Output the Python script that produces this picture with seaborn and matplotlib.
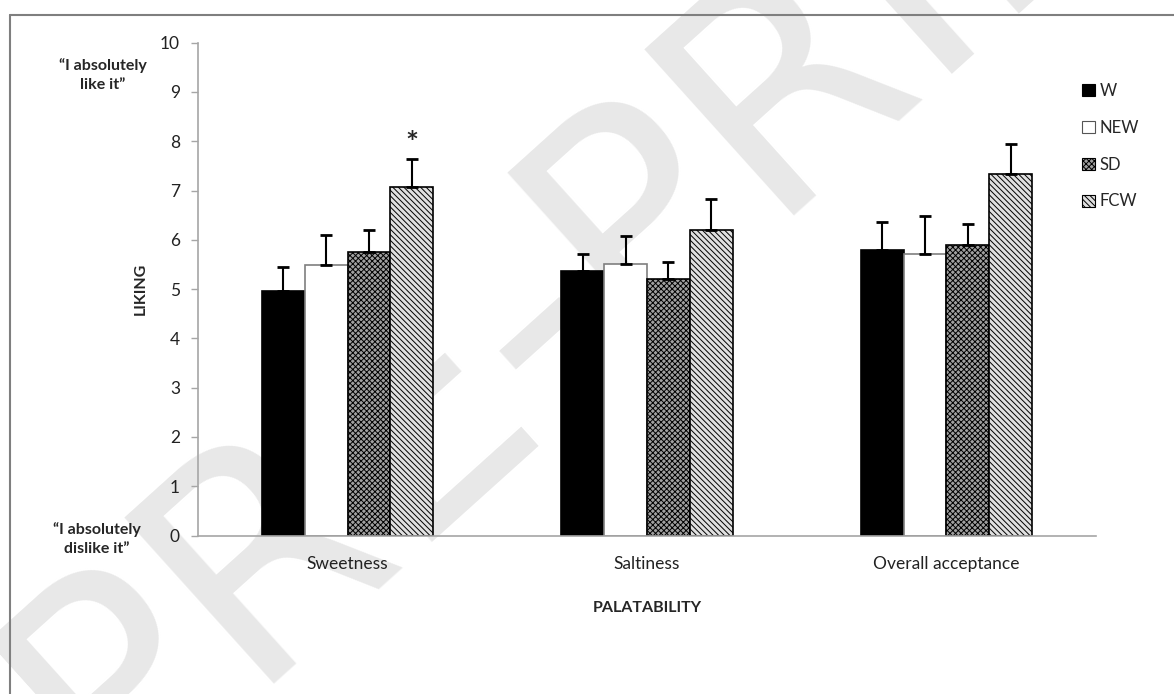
import numpy as np
import pandas as pd
import matplotlib
matplotlib.use("Agg")
import matplotlib.pyplot as plt
from matplotlib.patches import Patch
from matplotlib.lines import Line2D
import seaborn as sns

# Palatability ratings (mean and upper SD) per beverage
categories = ["Sweetness", "Saltiness", "Overall acceptance"]
treatments = ["W", "NEW", "SD", "FCW"]
mean_W = [4.97, 5.36, 5.79]
mean_NEW = [5.48, 5.50, 5.72]
mean_SD = [5.76, 5.21, 5.90]
mean_FCW = [7.08, 6.20, 7.34]
sd_W = [0.47, 0.36, 0.57]
sd_NEW = [0.62, 0.58, 0.77]
sd_SD = [0.43, 0.35, 0.43]
sd_FCW = [0.57, 0.62, 0.61]
yticks = list(range(0, 11))

means = {"W": mean_W, "NEW": mean_NEW, "SD": mean_SD, "FCW": mean_FCW}
sds = {"W": sd_W, "NEW": sd_NEW, "SD": sd_SD, "FCW": sd_FCW}
df = pd.DataFrame(
    [(c, t, means[t][i]) for t in treatments for i, c in enumerate(categories)],
    columns=["category", "treatment", "liking"],
)

sns.set_theme(style="white")
plt.rcParams["font.family"] = ["Lato", "DejaVu Sans"]
plt.rcParams["hatch.linewidth"] = 0.7

W_PX, H_PX = 1174, 694
fig = plt.figure(figsize=(W_PX / 100, H_PX / 100), dpi=100)

# Diagonal watermark behind everything
fig.text(0.55, 0.70, "PRE-PRINT", rotation=42, fontsize=220, color="#e8e8e8",
         ha="center", va="center", zorder=-5, family="DejaVu Sans")

# Outer frame (left and top edges)
fig.add_artist(Line2D([10 / W_PX, 10 / W_PX], [0, 1 - 15 / H_PX],
                      color="#7f7f7f", lw=1.5, transform=fig.transFigure))
fig.add_artist(Line2D([10 / W_PX, 1], [1 - 15 / H_PX, 1 - 15 / H_PX],
                      color="#7f7f7f", lw=1.5, transform=fig.transFigure))

ax = fig.add_axes([198 / W_PX, (H_PX - 535.5) / H_PX, 898 / W_PX, 492.8 / H_PX])
ax.set_zorder(2)
ax.patch.set_alpha(0)

sns.barplot(data=df, x="category", y="liking", hue="treatment",
            order=categories, hue_order=treatments, width=0.572,
            errorbar=None, legend=False, ax=ax, zorder=2)

styles = {
    "W": dict(facecolor="black", edgecolor="black", hatch=None),
    "NEW": dict(facecolor="white", edgecolor="#7f7f7f", hatch=None),
    "SD": dict(facecolor="#a0a0a0", edgecolor="black", hatch="xxxxxx"),
    "FCW": dict(facecolor="#e0e0e0", edgecolor="black", hatch="\\\\\\\\\\\\"),
}

for t, cont in zip(treatments, ax.containers):
    st = styles[t]
    xs = []
    for bar in cont:
        bar.set_facecolor(st["facecolor"])
        bar.set_edgecolor(st["edgecolor"])
        bar.set_linewidth(1.2)
        if st["hatch"]:
            bar.set_hatch(st["hatch"])
        xs.append(bar.get_x() + bar.get_width() / 2)
    m = np.array(means[t])
    e = np.array(sds[t])
    ax.errorbar(xs, m, yerr=[np.zeros_like(e), e], fmt="none", ecolor="black",
                elinewidth=1.5, capsize=4.5, capthick=2, zorder=3)

# Significance marker above FCW sweetness
fcw_sweet = ax.containers[3][0]
ax.text(fcw_sweet.get_x() + fcw_sweet.get_width() / 2, mean_FCW[0] + sd_FCW[0] + 0.3,
        "*", ha="center", va="center", fontsize=22, fontweight="bold")

ax.set_ylim(0, 10)
ax.set_xlim(-0.5, 2.5)
ax.set_yticks(yticks)
ax.set_yticklabels([str(v) for v in yticks], fontsize=12.5, color="#222222")
ax.set_xticks(range(len(categories)))
ax.set_xticklabels(categories, fontsize=12.5, color="#222222")
ax.tick_params(axis="y", left=True, length=5, width=1, color="#a6a6a6", pad=8)
ax.tick_params(axis="x", bottom=False, pad=8.5)
for side in ["top", "right"]:
    ax.spines[side].set_visible(False)
for side in ["left", "bottom"]:
    ax.spines[side].set_color("#a6a6a6")
    ax.spines[side].set_linewidth(1.2)

ax.set_xlabel("PALATABILITY", fontsize=11.5, fontweight="bold", labelpad=21)
ax.set_ylabel("LIKING", fontsize=11.5, fontweight="bold", labelpad=9)

fig.text(103 / W_PX, 1 - 75 / H_PX, "\u201cI absolutely\nlike it\u201d",
         ha="center", va="center", fontsize=11.5, fontweight="bold", linespacing=1.5)
fig.text(97 / W_PX, 1 - 539 / H_PX, "\u201cI absolutely\ndislike it\u201d",
         ha="center", va="center", fontsize=11.5, fontweight="bold", linespacing=1.5)

handles = [Patch(facecolor=styles[t]["facecolor"], edgecolor="black" if t != "NEW" else "#555555",
                 hatch=styles[t]["hatch"], linewidth=0.8) for t in treatments]
fig.legend(handles, treatments, loc="upper left",
           bbox_to_anchor=(1082 / W_PX, 1 - 83 / H_PX), frameon=False,
           fontsize=12, handlelength=0.75, handleheight=0.75, handletextpad=0.3,
           labelspacing=1.25, borderpad=0, borderaxespad=0)

fig.savefig("out.png", dpi=100)
